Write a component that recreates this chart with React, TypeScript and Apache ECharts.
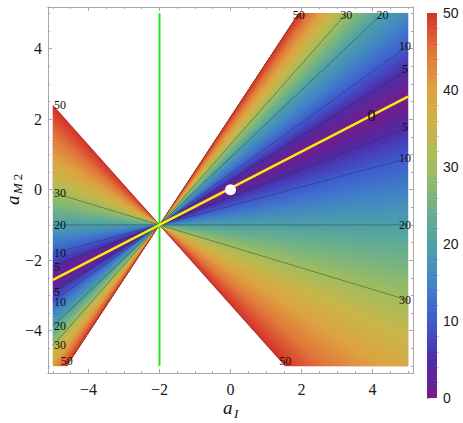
import React, { useEffect, useRef } from "react";
import * as echarts from "echarts";

// ---------------- data ----------------
const APEX: [number, number] = [-2, -1];
// contour rays through the apex: slope (Δa_M2/Δa_I) and the level they carry
const CONTOUR_SLOPES = [-1.13, -0.305, 0, 0.27, 0.395, 0.52, 0.63, 0.725, 0.955, 1.14, 1.53];
const CONTOUR_VALUES = [50, 30, 20, 10, 5, 0, 5, 10, 20, 30, 50];
const ZERO_LINE_SLOPE = 0.52;
const ZERO_LABEL_X = 3.97;
const GREEN_X = -2;
const MARKED_POINT: [number, number] = [0, 0];
const DATA_MIN = -5;
const DATA_MAX = 5;
const X_RANGE: [number, number] = [-5.14, 5.14];
const Y_RANGE: [number, number] = [-5.2, 5.18];
const MAJOR_TICKS = [-4, -2, 0, 2, 4];
const MINOR_TICKS = [-5, -4.5, -3.5, -3, -2.5, -1.5, -1, -0.5, 0.5, 1, 1.5, 2.5, 3, 3.5, 4.5, 5];
const BAR_MAJOR_TICKS = [0, 10, 20, 30, 40, 50];
const BAR_MINOR_TICKS = [2, 4, 6, 8, 12, 14, 16, 18, 22, 24, 26, 28, 32, 34, 36, 38, 42, 44, 46, 48];
const COLOR_MIN = 0;
const COLOR_MAX = 50;
const RAINBOW = [
  "#781c87", "#4f2ca8", "#3f5bd0", "#4284c6", "#4ea1a8", "#72b386",
  "#a2bd5e", "#c9b64a", "#dea241", "#e0763a", "#d8302a",
];

// ---------------- helpers ----------------
const RGB = RAINBOW.map((h) => {
  const n = parseInt(h.slice(1), 16);
  return [(n >> 16) & 255, (n >> 8) & 255, n & 255];
});
function colorAt(v: number): string {
  let f = (v - COLOR_MIN) / (COLOR_MAX - COLOR_MIN);
  f = Math.max(0, Math.min(1, f));
  const p = f * (RGB.length - 1);
  const i = Math.min(Math.floor(p), RGB.length - 2);
  const r = p - i;
  const a = RGB[i], b = RGB[i + 1];
  return `rgb(${Math.round(a[0] + (b[0] - a[0]) * r)},${Math.round(a[1] + (b[1] - a[1]) * r)},${Math.round(a[2] + (b[2] - a[2]) * r)})`;
}

function clipPoly(pts: number[][]): number[][] {
  const planes: [number, number, number][] = [
    [0, DATA_MIN, 1], [0, DATA_MAX, -1], [1, DATA_MIN, 1], [1, DATA_MAX, -1],
  ];
  let out = pts;
  for (const [k, c, s] of planes) {
    const inp = out;
    out = [];
    for (let i = 0; i < inp.length; i++) {
      const a = inp[i], b = inp[(i + 1) % inp.length];
      const ain = s * (a[k] - c) >= 0, bin = s * (b[k] - c) >= 0;
      if (ain) out.push(a);
      if (ain !== bin) {
        const t = (c - a[k]) / (b[k] - a[k]);
        out.push([a[0] + t * (b[0] - a[0]), a[1] + t * (b[1] - a[1])]);
      }
    }
    if (!out.length) break;
  }
  return out;
}

function rayExit(dx: number, dy: number): { pt: number[]; edge: string } {
  let t = Infinity, edge = "";
  const test = (tt: number, e: string) => { if (tt < t) { t = tt; edge = e; } };
  if (dx > 0) test((DATA_MAX - APEX[0]) / dx, "right");
  if (dx < 0) test((DATA_MIN - APEX[0]) / dx, "left");
  if (dy > 0) test((DATA_MAX - APEX[1]) / dy, "top");
  if (dy < 0) test((DATA_MIN - APEX[1]) / dy, "bottom");
  return { pt: [APEX[0] + t * dx, APEX[1] + t * dy], edge };
}

const fmt = (v: number) => (v < 0 ? "\u2212" + Math.abs(v) : String(v));
const FRAME = "#a8a8a8";
const SERIF = "'Liberation Serif', 'Times New Roman', 'DejaVu Serif', serif";
const SANS = "'Liberation Sans', Arial, sans-serif";

function frameAxis(pos: string, major: boolean, labels: boolean, min: number, max: number, isX: boolean) {
  return {
    type: "value",
    gridIndex: 0,
    position: pos,
    min,
    max,
    axisLine: { show: true, onZero: false, lineStyle: { color: FRAME, width: 1 } },
    axisTick: {
      show: true,
      inside: true,
      length: major ? 4 : 2,
      customValues: major ? MAJOR_TICKS : MINOR_TICKS,
      lineStyle: { color: FRAME, width: 1 },
    },
    axisLabel: {
      show: labels,
      customValues: MAJOR_TICKS,
      formatter: (v: number) => fmt(v),
      fontFamily: SERIF,
      fontSize: 16,
      color: "#1a1a1a",
      margin: isX ? 8 : 6,
    },
    splitLine: { show: false },
  };
}

export default function App() {
  const ref = useRef<HTMLDivElement>(null);
  useEffect(() => {
    if (!ref.current) return;
    const chart = echarts.init(ref.current, undefined, { renderer: "svg" });

    const bands = CONTOUR_SLOPES.slice(0, -1).map((s, i) => [
      s, CONTOUR_SLOPES[i + 1], CONTOUR_VALUES[i], CONTOUR_VALUES[i + 1],
    ]);
    const contours = CONTOUR_SLOPES.map((s, i) => [s, CONTOUR_VALUES[i]]).filter((d) => d[1] !== 0);

    const option: any = {
      animation: false,
      backgroundColor: "#fff",
      grid: [
        { left: 48, top: 7, width: 365, height: 366 },
        { left: 427, top: 13, width: 10, height: 385 },
      ],
      xAxis: [
        frameAxis("bottom", true, true, X_RANGE[0], X_RANGE[1], true),
        frameAxis("bottom", false, false, X_RANGE[0], X_RANGE[1], true),
        frameAxis("top", true, false, X_RANGE[0], X_RANGE[1], true),
        frameAxis("top", false, false, X_RANGE[0], X_RANGE[1], true),
        { type: "value", gridIndex: 1, min: 0, max: 1, show: false },
      ],
      yAxis: [
        frameAxis("left", true, true, Y_RANGE[0], Y_RANGE[1], false),
        frameAxis("left", false, false, Y_RANGE[0], Y_RANGE[1], false),
        frameAxis("right", true, false, Y_RANGE[0], Y_RANGE[1], false),
        frameAxis("right", false, false, Y_RANGE[0], Y_RANGE[1], false),
        {
          type: "value", gridIndex: 1, position: "right", min: COLOR_MIN, max: COLOR_MAX,
          axisLine: { show: false },
          axisTick: { show: true, length: 3, customValues: BAR_MAJOR_TICKS, lineStyle: { color: "#bbb" } },
          axisLabel: { show: true, customValues: BAR_MAJOR_TICKS, fontFamily: SANS, fontSize: 14, color: "#1a1a1a", margin: 6 },
          splitLine: { show: false },
        },
        {
          type: "value", gridIndex: 1, position: "right", min: COLOR_MIN, max: COLOR_MAX,
          axisLine: { show: false },
          axisTick: { show: true, length: 2, customValues: BAR_MINOR_TICKS, lineStyle: { color: "#ccc" } },
          axisLabel: { show: false },
          splitLine: { show: false },
        },
      ],
      series: [
        {
          type: "custom",
          coordinateSystem: "cartesian2d",
          xAxisIndex: 0,
          yAxisIndex: 0,
          silent: true,
          z: 1,
          data: bands,
          renderItem: (_p: any, api: any) => {
            const s0 = api.value(0), s1 = api.value(1), v0 = api.value(2), v1 = api.value(3);
            const a0 = Math.atan(s0), a1 = Math.atan(s1);
            const n = Math.max(4, Math.ceil((a1 - a0) / ((0.3 * Math.PI) / 180)));
            const step = (a1 - a0) / n;
            const children: any[] = [];
            const R = 40;
            for (let j = 0; j < n; j++) {
              const b0 = a0 + step * j;
              // painter's order: each sliver reaches the band's end, later slivers cover it
              const b1 = a1;
              const col = colorAt(v0 + ((v1 - v0) * (j + 0.5)) / n);
              for (const dir of [1, -1]) {
                const poly = clipPoly([
                  APEX,
                  [APEX[0] + dir * R * Math.cos(b0), APEX[1] + dir * R * Math.sin(b0)],
                  [APEX[0] + dir * R * Math.cos(b1), APEX[1] + dir * R * Math.sin(b1)],
                ]);
                if (poly.length < 3) continue;
                children.push({
                  type: "polygon",
                  shape: { points: poly.map((p) => api.coord(p)) },
                  style: { fill: col, stroke: j === 0 ? col : null, lineWidth: 0.5 },
                  silent: true,
                });
              }
            }
            return { type: "group", children };
          },
        },
        {
          type: "custom",
          coordinateSystem: "cartesian2d",
          xAxisIndex: 0,
          yAxisIndex: 0,
          silent: true,
          z: 2,
          data: contours,
          renderItem: (_p: any, api: any) => {
            const s = api.value(0), val = api.value(1);
            const a = Math.atan(s);
            const children: any[] = [];
            const p0 = api.coord(APEX);
            for (const dir of [1, -1]) {
              const { pt, edge } = rayExit(dir * Math.cos(a), dir * Math.sin(a));
              const p1 = api.coord(pt);
              children.push({
                type: "line",
                shape: { x1: p0[0], y1: p0[1], x2: p1[0], y2: p1[1] },
                style: { stroke: "rgba(45,45,45,0.55)", lineWidth: 0.8 },
              });
              let tx = p1[0], ty = p1[1], align = "center";
              if (edge === "right") tx -= 3;
              else if (edge === "left") { tx += 1; align = "left"; }
              else if (edge === "top") ty += 2;
              else ty -= 5;
              children.push({
                type: "text",
                x: tx,
                y: ty,
                style: {
                  text: String(val), fontFamily: SERIF, fontSize: 12, lineHeight: 9,
                  fill: "#111", align, verticalAlign: "middle",
                },
              });
            }
            return { type: "group", children };
          },
        },
        {
          type: "line",
          xAxisIndex: 0,
          yAxisIndex: 0,
          z: 3,
          silent: true,
          showSymbol: false,
          symbol: "none",
          data: [[GREEN_X, DATA_MIN], [GREEN_X, DATA_MAX]],
          lineStyle: { color: "#1fe81f", width: 2 },
        },
        {
          type: "custom",
          coordinateSystem: "cartesian2d",
          xAxisIndex: 0,
          yAxisIndex: 0,
          silent: true,
          z: 4,
          data: [[ZERO_LINE_SLOPE, ZERO_LABEL_X]],
          renderItem: (_p: any, api: any) => {
            const s = api.value(0), lx = api.value(1);
            const a = Math.atan(s);
            const e1 = rayExit(Math.cos(a), Math.sin(a)).pt;
            const e2 = rayExit(-Math.cos(a), -Math.sin(a)).pt;
            const q1 = api.coord(e1), q2 = api.coord(e2);
            const lp = api.coord([lx, APEX[1] + s * (lx - APEX[0])]);
            return {
              type: "group",
              children: [
                { type: "line", shape: { x1: q2[0], y1: q2[1], x2: q1[0], y2: q1[1] }, style: { stroke: "#f6ee12", lineWidth: 2.4 } },
                { type: "text", x: lp[0], y: lp[1], style: { text: "0", fontFamily: SERIF, fontSize: 16, fill: "#111", align: "center", verticalAlign: "middle" } },
              ],
            };
          },
        },
        {
          type: "scatter",
          xAxisIndex: 0,
          yAxisIndex: 0,
          z: 5,
          silent: true,
          symbolSize: 11,
          data: [MARKED_POINT],
          itemStyle: { color: "#ffffff", borderColor: "rgba(0,0,0,0.12)", borderWidth: 0.5, opacity: 1 },
        },
        {
          type: "custom",
          coordinateSystem: "cartesian2d",
          xAxisIndex: 4,
          yAxisIndex: 4,
          silent: true,
          data: [[0, COLOR_MIN, COLOR_MAX]],
          renderItem: (_p: any, api: any) => {
            const lo = api.coord([0, api.value(1)]);
            const hi = api.coord([1, api.value(2)]);
            const stops = RAINBOW.map((c, i) => ({ offset: i / (RAINBOW.length - 1), color: c }));
            return {
              type: "rect",
              shape: { x: lo[0], y: hi[1], width: hi[0] - lo[0], height: lo[1] - hi[1] },
              style: { fill: new echarts.graphic.LinearGradient(0, 1, 0, 0, stops) },
            };
          },
        },
      ],
      graphic: [
        {
          type: "text", x: 223, y: 407, silent: true,
          style: { text: "a", fontFamily: SERIF, fontStyle: "italic", fontSize: 19, fill: "#111", align: "left", verticalAlign: "middle" },
        },
        {
          type: "text", x: 234, y: 413, silent: true,
          style: { text: "I", fontFamily: SERIF, fontStyle: "italic", fontSize: 13, fill: "#111", align: "left", verticalAlign: "middle" },
        },
        {
          type: "group", x: 19, y: 205, rotation: Math.PI / 2, silent: true,
          children: [
            {
              type: "text", x: 0, y: -6.3,
              style: { text: "a", fontFamily: SERIF, fontStyle: "italic", fontSize: 19, fill: "#111", align: "left", verticalAlign: "middle" },
            },
            {
              type: "text", x: 11, y: -2,
              style: {
                text: "{i|M}{n|2}",
                align: "left",
                verticalAlign: "middle",
                rich: {
                  i: { fontFamily: SERIF, fontStyle: "italic", fontSize: 13, fill: "#111" },
                  n: { fontFamily: SERIF, fontSize: 13, fill: "#111", padding: [0, 0, 0, 3] },
                },
              },
            },
          ],
        },
      ],
    };
    chart.setOption(option);
    return () => chart.dispose();
  }, []);
  return <div ref={ref} style={{ position: "absolute", left: 0, top: 0, width: 463, height: 423 }} />;
}
